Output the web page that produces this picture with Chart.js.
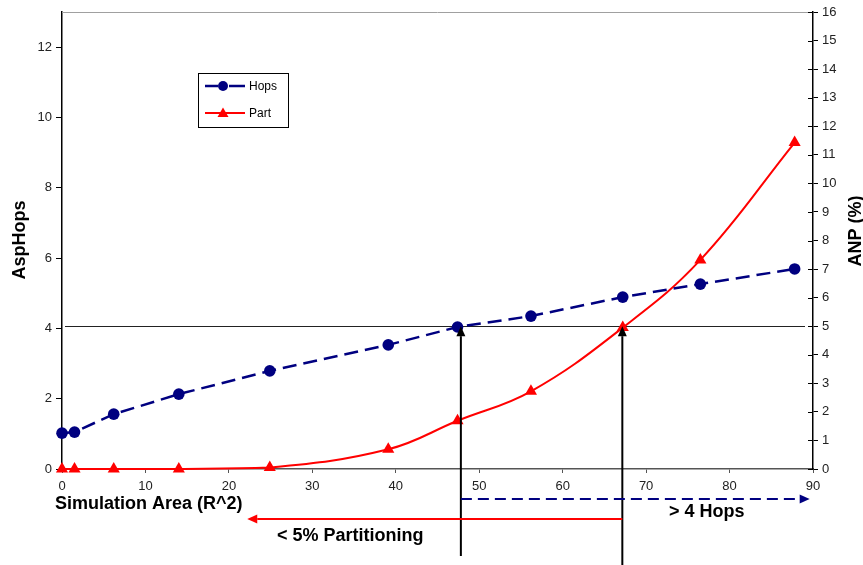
<!DOCTYPE html>
<html>
<head>
<meta charset="utf-8">
<script src="https://cdn.jsdelivr.net/npm/chart.js@4.4.1/dist/chart.umd.min.js"></script>
<style>
  html, body { margin: 0; padding: 0; background: #fff; }
  #chart { display: block; }
</style>
</head>
<body>
<canvas id="chart" width="863" height="565"></canvas>
<script>
// Data
const areaX = [0, 1.5, 6.2, 14, 24.9, 39.1, 47.4, 56.2, 67.2, 76.5, 87.8];
const hopsValues = [1.02, 1.05, 1.56, 2.13, 2.79, 3.53, 4.04, 4.35, 4.89, 5.26, 5.69];
const partValues = [0, 0, 0, 0, 0.05, 0.69, 1.69, 2.72, 4.95, 7.32, 11.43];
const seriesLabels = ['Hops', 'Part'];
const xRange = [0, 90];
const hopsRange = [0, 13];
const anpRange = [0, 16];

// annotation values (data units)
const thresholdANP = 5;
const crossHops = 47.8;
const crossPart = 67.15;
const partitionEnd = 22.2;
const hopsEnd = 89.6;

const FONT = 'Arial, "Liberation Sans", sans-serif';
const NAVY = '#000080';
const RED = '#ff0000';

function toPoints(xs, ys) {
  return xs.map((x, i) => ({ x: x, y: ys[i] }));
}

function arrow(ctx, x1, y1, x2, y2, color, width, dash, headLen, headW) {
  const ang = Math.atan2(y2 - y1, x2 - x1);
  const bx = x2 - Math.cos(ang) * headLen;
  const by = y2 - Math.sin(ang) * headLen;
  ctx.save();
  ctx.strokeStyle = color;
  ctx.fillStyle = color;
  ctx.lineWidth = width;
  ctx.setLineDash(dash);
  ctx.beginPath();
  ctx.moveTo(x1, y1);
  ctx.lineTo(bx, by);
  ctx.stroke();
  ctx.setLineDash([]);
  ctx.beginPath();
  ctx.moveTo(x2, y2);
  ctx.lineTo(bx - Math.sin(ang) * headW / 2, by + Math.cos(ang) * headW / 2);
  ctx.lineTo(bx + Math.sin(ang) * headW / 2, by - Math.cos(ang) * headW / 2);
  ctx.closePath();
  ctx.fill();
  ctx.restore();
}

const overlay = {
  id: 'overlay',
  beforeDatasetsDraw(chart) {
    const { ctx, chartArea: a, scales } = chart;
    ctx.save();
    // top frame line
    ctx.strokeStyle = '#a0a0a0';
    ctx.lineWidth = 1;
    ctx.beginPath();
    ctx.moveTo(a.left, a.top + 0.5);
    ctx.lineTo(a.right, a.top + 0.5);
    ctx.stroke();
    // 5% threshold line
    const ty = Math.round(scales.y1.getPixelForValue(thresholdANP)) + 0.5;
    ctx.strokeStyle = '#222';
    ctx.beginPath();
    ctx.moveTo(a.left + 3, ty);
    ctx.lineTo(a.right - 8, ty);
    ctx.stroke();
    // inner half of right axis ticks
    ctx.strokeStyle = '#000';
    scales.y1.ticks.forEach(t => {
      const py = Math.round(scales.y1.getPixelForValue(t.value)) + 0.5;
      ctx.beginPath();
      ctx.moveTo(a.right - 5, py);
      ctx.lineTo(a.right, py);
      ctx.stroke();
    });
    ctx.restore();
  },
  afterDraw(chart) {
    const { ctx, scales } = chart;
    const sx = scales.x;
    const ty = scales.y1.getPixelForValue(thresholdANP);

    // vertical arrows up to the threshold
    arrow(ctx, sx.getPixelForValue(crossHops), 556, sx.getPixelForValue(crossHops), ty, '#000', 2, [], 10, 9);
    arrow(ctx, sx.getPixelForValue(crossPart), 565, sx.getPixelForValue(crossPart), ty, '#000', 2, [], 10, 9);

    // horizontal range arrows
    arrow(ctx, sx.getPixelForValue(crossPart), 519, sx.getPixelForValue(partitionEnd), 519, RED, 2, [], 10, 9);
    arrow(ctx, sx.getPixelForValue(crossHops), 499, sx.getPixelForValue(hopsEnd), 499, NAVY, 2, [11, 6], 10, 9);

    ctx.save();
    ctx.fillStyle = '#000';
    ctx.font = 'bold 18px ' + FONT;
    ctx.textBaseline = 'middle';
    ctx.textAlign = 'left';
    ctx.fillText('Simulation Area (R^2)', 55, 504);
    ctx.fillText('< 5% Partitioning', 277, 536);
    ctx.fillText('> 4 Hops', 669, 512);

    ctx.textAlign = 'center';
    ctx.save();
    ctx.translate(20, 240);
    ctx.rotate(-Math.PI / 2);
    ctx.fillText('AspHops', 0, 0);
    ctx.restore();
    ctx.save();
    ctx.translate(856, 231);
    ctx.rotate(-Math.PI / 2);
    ctx.fillText('ANP (%)', 0, 0);
    ctx.restore();

    // legend
    ctx.fillStyle = '#fff';
    ctx.fillRect(198, 73, 91, 55);
    ctx.strokeStyle = '#000';
    ctx.lineWidth = 1;
    ctx.strokeRect(198.5, 73.5, 90, 54);

    const ds = chart.data.datasets;
    ctx.lineWidth = 2.5;
    ctx.strokeStyle = ds[0].borderColor;
    ctx.beginPath();
    ctx.moveTo(205, 86); ctx.lineTo(218, 86);
    ctx.moveTo(229, 86); ctx.lineTo(245, 86);
    ctx.stroke();
    ctx.fillStyle = ds[0].borderColor;
    ctx.beginPath();
    ctx.arc(223, 86, 5, 0, Math.PI * 2);
    ctx.fill();

    ctx.lineWidth = 2;
    ctx.strokeStyle = ds[1].borderColor;
    ctx.beginPath();
    ctx.moveTo(205, 113); ctx.lineTo(245, 113);
    ctx.stroke();
    ctx.fillStyle = ds[1].borderColor;
    ctx.beginPath();
    ctx.moveTo(223, 107.5);
    ctx.lineTo(228.5, 117);
    ctx.lineTo(217.5, 117);
    ctx.closePath();
    ctx.fill();

    ctx.fillStyle = '#000';
    ctx.font = '12px ' + FONT;
    ctx.textAlign = 'left';
    ctx.fillText(ds[0].label, 249, 87);
    ctx.fillText(ds[1].label, 249, 114);
    ctx.restore();
  }
};

new Chart(document.getElementById('chart'), {
  type: 'line',
  data: {
    datasets: [
      {
        label: seriesLabels[0],
        data: toPoints(areaX, hopsValues),
        yAxisID: 'y',
        borderColor: NAVY,
        backgroundColor: NAVY,
        borderWidth: 2.5,
        borderDash: [14, 7],
        pointStyle: 'circle',
        pointRadius: 5.8,
        pointBorderWidth: 0,
        tension: 0,
        clip: false
      },
      {
        label: seriesLabels[1],
        data: toPoints(areaX, partValues),
        yAxisID: 'y1',
        borderColor: RED,
        backgroundColor: RED,
        borderWidth: 2,
        pointStyle: 'triangle',
        pointRadius: 7,
        pointBorderWidth: 0,
        tension: 0.4,
        clip: false
      }
    ]
  },
  options: {
    responsive: false,
    animation: false,
    layout: { padding: { left: 12, right: 10, top: 12, bottom: 66 } },
    plugins: {
      legend: { display: false },
      tooltip: { enabled: false }
    },
    scales: {
      x: {
        type: 'linear',
        min: xRange[0],
        max: xRange[1],
        ticks: { stepSize: 10, color: '#222', font: { family: FONT, size: 13 }, padding: 6, maxRotation: 0 },
        grid: { drawOnChartArea: false, tickLength: 4, color: '#555' },
        border: { color: '#555', width: 1.5 },
        afterFit: s => { s.height = 30; }
      },
      y: {
        position: 'left',
        min: hopsRange[0],
        max: hopsRange[1],
        ticks: { stepSize: 2, includeBounds: false, color: '#222', font: { family: FONT, size: 13 }, padding: 4 },
        grid: { drawOnChartArea: false, tickLength: 6, color: '#000' },
        border: { color: '#000', width: 1.5 },
        afterFit: s => { s.width = 50; }
      },
      y1: {
        position: 'right',
        min: anpRange[0],
        max: anpRange[1],
        ticks: { stepSize: 1, color: '#222', font: { family: FONT, size: 13 }, padding: 4 },
        grid: { drawOnChartArea: false, tickLength: 5, color: '#000' },
        border: { color: '#000', width: 1.5 },
        afterFit: s => { s.width = 40; }
      }
    }
  },
  plugins: [overlay]
});
</script>
</body>
</html>
